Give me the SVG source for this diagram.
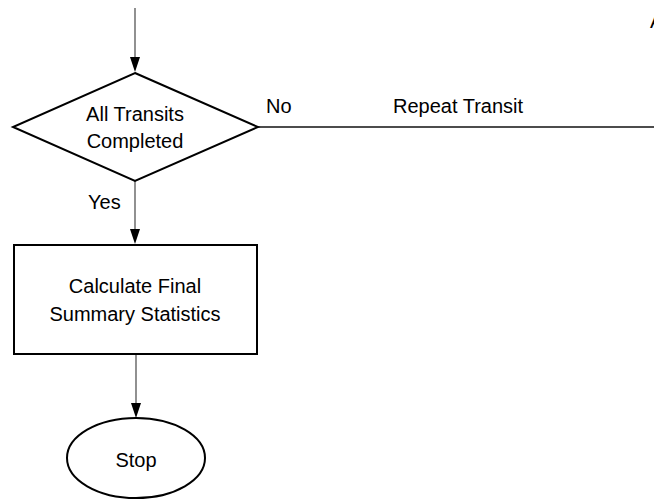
<svg xmlns="http://www.w3.org/2000/svg" width="654" height="502" viewBox="0 0 654 502">
<style>
.t{font-family:"Liberation Sans",Arial,sans-serif;font-size:20px;fill:#000}
.c{text-anchor:middle}
.shape{fill:#fff;stroke:#000;stroke-width:2}
.conn{fill:none;stroke:#555;stroke-width:1.3}
</style>
<defs>
<marker id="ah" markerUnits="userSpaceOnUse" markerWidth="12" markerHeight="16" refX="5" refY="15" orient="auto-start-reverse" viewBox="0 0 10 16">
<path d="M0,0 L10,0 L5,15 Z" fill="#000"/>
</marker>
</defs>
<rect width="654" height="502" fill="#fff"/>
<g id="connectors">
<line class="conn" x1="135" y1="8" x2="135" y2="57" />
<path d="M130,57 L140,57 L135,72 Z" fill="#000"/>
<line x1="258" y1="127" x2="654" y2="127" stroke="#111" stroke-width="1.6"/>
<line class="conn" x1="135" y1="181" x2="135" y2="229"/>
<path d="M130,229 L140,229 L135,244 Z" fill="#000"/>
<line class="conn" x1="136" y1="355" x2="136" y2="403"/>
<path d="M131,403 L141,403 L136,418 Z" fill="#000"/>
<text class="t" x="266" y="113">No</text>
<text class="t" x="393" y="113">Repeat Transit</text>
<text class="t" x="88" y="209">Yes</text>
</g>
<g id="decision">
<polygon class="shape" points="135,73 258,127 135,181 13,127"/>
<text class="t c" x="135" y="121">All Transits</text>
<text class="t c" x="135" y="148">Completed</text>
</g>
<g id="calc">
<rect class="shape" x="14" y="245" width="243" height="109"/>
<text class="t c" x="135" y="293">Calculate Final</text>
<text class="t c" x="135" y="321">Summary Statistics</text>
</g>
<g id="stop">
<ellipse class="shape" cx="136" cy="458" rx="69" ry="40"/>
<text class="t c" x="136" y="467">Stop</text>
</g>
<g id="offpage">
<text class="t" x="650" y="28">A</text>
</g>
</svg>
